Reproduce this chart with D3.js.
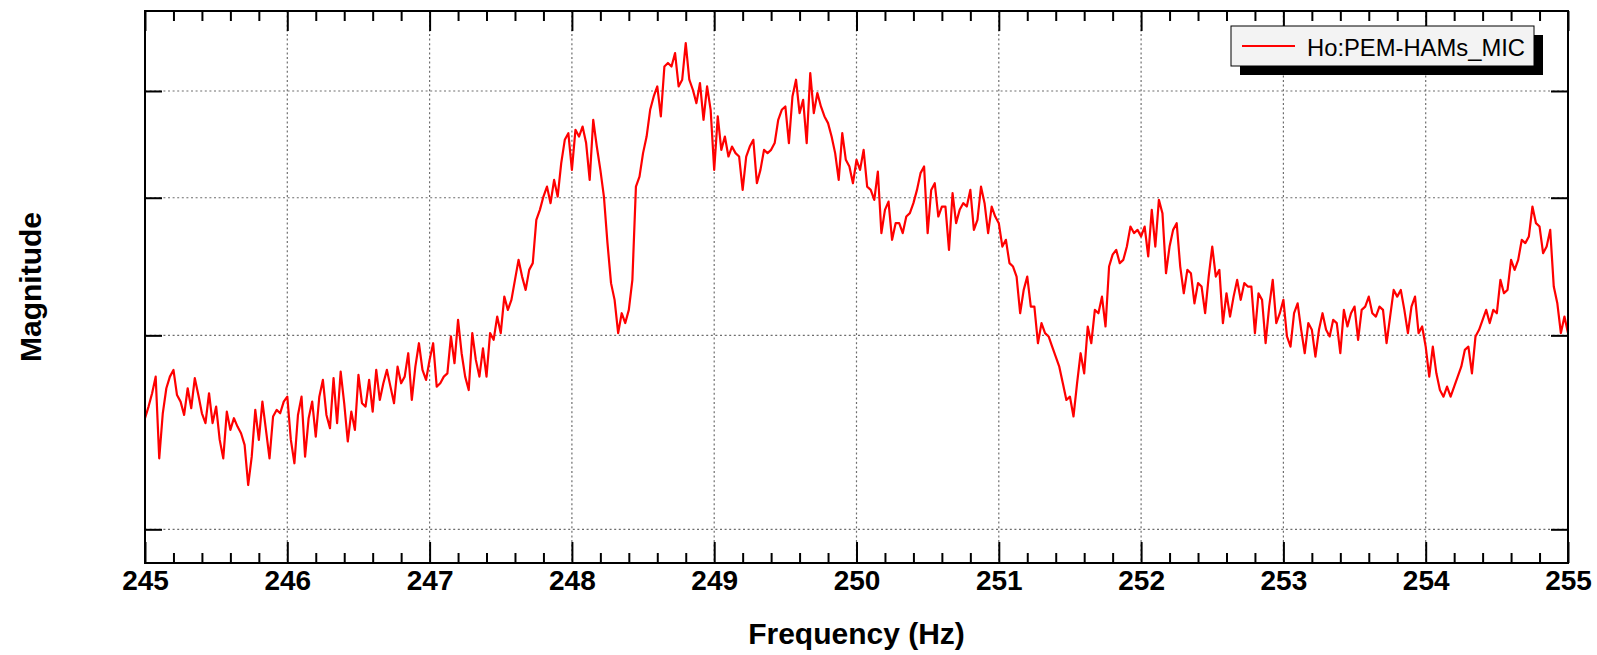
<!DOCTYPE html>
<html>
<head>
<meta charset="utf-8">
<script src="https://cdn.jsdelivr.net/npm/d3@7"></script>
<style>
  body { margin: 0; background: #fff; }
  svg { display: block; font-family: "Liberation Sans", Arial, Helvetica, sans-serif; }
</style>
</head>
<body>
<svg id="chart"></svg>
<script>
// spectrum bins: 245 Hz .. 255 Hz, one every 0.025 Hz
const freqStart = 245;
const freqStep = 0.025;

// magnitude per bin (log y axis, unlabelled)
const magnitude = [
  // 245.00
  2.523, 2.585, 2.658, 2.752, 2.320, 2.549, 2.686, 2.752, 2.791, 2.648,
  2.612, 2.540, 2.686, 2.576, 2.743, 2.648, 2.549, 2.497, 2.658, 2.497,
  // 245.50
  2.585, 2.411, 2.320, 2.558, 2.462, 2.523, 2.479, 2.445, 2.386, 2.194,
  2.328, 2.567, 2.411, 2.612, 2.462, 2.320, 2.532, 2.567, 2.549, 2.612,
  // 246.00
  2.639, 2.411, 2.296, 2.540, 2.639, 2.328, 2.523, 2.612, 2.428, 2.639,
  2.733, 2.540, 2.471, 2.743, 2.497, 2.781, 2.603, 2.403, 2.558, 2.462,
  // 246.50
  2.762, 2.603, 2.585, 2.733, 2.558, 2.791, 2.621, 2.714, 2.791, 2.695,
  2.603, 2.810, 2.714, 2.752, 2.890, 2.621, 2.810, 2.951, 2.791, 2.733,
  // 247.00
  2.850, 2.951, 2.695, 2.714, 2.752, 2.771, 2.993, 2.830, 3.099, 2.890,
  2.752, 2.676, 3.014, 2.850, 2.752, 2.920, 2.752, 3.014, 2.972, 3.120,
  // 247.50
  3.014, 3.253, 3.164, 3.231, 3.369, 3.513, 3.392, 3.299, 3.440, 3.489,
  3.819, 3.900, 4.010, 4.094, 3.955, 4.152, 4.010, 4.300, 4.515, 4.578,
  // 248.00
  4.240, 4.610, 4.546, 4.642, 4.484, 4.152, 4.708, 4.452, 4.240, 4.010,
  3.638, 3.346, 3.231, 3.014, 3.142, 3.078, 3.164, 3.369, 4.094, 4.181,
  // 248.50
  4.391, 4.546, 4.807, 4.943, 5.048, 4.741, 5.263, 5.301, 5.263, 5.413,
  5.048, 5.119, 5.527, 5.119, 5.013, 4.875, 5.084, 4.708, 5.048, 4.807,
  // 249.00
  4.240, 4.741, 4.421, 4.546, 4.360, 4.452, 4.391, 4.360, 4.066, 4.360,
  4.452, 4.515, 4.123, 4.240, 4.421, 4.391, 4.421, 4.484, 4.708, 4.807,
  // 249.50
  4.841, 4.484, 4.943, 5.119, 4.774, 4.909, 4.484, 5.191, 4.774, 4.979,
  4.841, 4.741, 4.675, 4.546, 4.391, 4.152, 4.578, 4.330, 4.270, 4.123,
  // 250.00
  4.330, 4.240, 4.421, 4.094, 4.066, 3.982, 4.225, 3.715, 3.900, 3.968,
  3.663, 3.793, 3.793, 3.715, 3.846, 3.873, 3.955, 4.066, 4.211, 4.270,
  // 250.50
  3.715, 4.066, 4.123, 3.846, 3.927, 3.927, 3.587, 4.038, 3.793, 3.900,
  3.955, 3.927, 4.066, 3.740, 3.819, 4.094, 3.955, 3.715, 3.927, 3.846,
  // 251.00
  3.793, 3.612, 3.663, 3.489, 3.464, 3.392, 3.142, 3.299, 3.392, 3.186,
  3.186, 2.951, 3.078, 3.014, 2.993, 2.930, 2.870, 2.810, 2.714, 2.621,
  // 251.50
  2.639, 2.532, 2.714, 2.890, 2.771, 3.056, 2.951, 3.164, 3.142, 3.253,
  3.056, 3.464, 3.551, 3.587, 3.489, 3.513, 3.612, 3.766, 3.715, 3.740,
  // 252.00
  3.689, 3.766, 3.538, 3.900, 3.612, 3.982, 3.873, 3.416, 3.612, 3.740,
  3.793, 3.464, 3.276, 3.440, 3.416, 3.208, 3.346, 3.322, 3.142, 3.392,
  // 252.50
  3.612, 3.392, 3.440, 3.078, 3.276, 3.120, 3.253, 3.369, 3.231, 3.346,
  3.322, 3.322, 3.014, 3.276, 3.231, 2.951, 3.186, 3.369, 3.078, 3.142,
  // 253.00
  3.231, 2.993, 2.930, 3.142, 3.208, 3.035, 2.890, 3.078, 3.035, 2.870,
  3.035, 3.142, 3.035, 2.993, 3.099, 3.078, 2.890, 3.164, 3.056, 3.142,
  // 253.50
  3.186, 2.972, 3.164, 3.186, 3.253, 3.142, 3.120, 3.186, 3.164, 2.951,
  3.120, 3.299, 3.253, 3.299, 3.164, 3.014, 3.186, 3.253, 3.014, 3.056,
  // 254.00
  2.930, 2.752, 2.930, 2.771, 2.676, 2.639, 2.695, 2.639, 2.695, 2.752,
  2.810, 2.910, 2.930, 2.771, 2.993, 3.035, 3.099, 3.164, 3.078, 3.164,
  // 254.50
  3.142, 3.369, 3.276, 3.299, 3.513, 3.440, 3.513, 3.663, 3.638, 3.689,
  3.927, 3.793, 3.766, 3.562, 3.612, 3.740, 3.322, 3.208, 3.014, 3.120,
  // 255.00
  3.014
];

const xTicks = [245, 246, 247, 248, 249, 250, 251, 252, 253, 254, 255];
const yGrid = [2, 3, 4, 5];
const seriesName = "Ho:PEM-HAMs_MIC";

const width = 1597, height = 655;
const margin = {top: 11, right: 29, bottom: 92, left: 145};

const data = magnitude.map((m, i) => ({f: freqStart + i * freqStep, m: m}));

const svg = d3.select("#chart")
    .attr("width", width)
    .attr("height", height);

const x = d3.scaleLinear()
    .domain([xTicks[0], xTicks[xTicks.length - 1]])
    .range([margin.left, width - margin.right]);

const y = d3.scaleLog()
    .domain([1.864, 5.91])
    .range([height - margin.bottom, margin.top]);

// minor ticks every 0.2 Hz
const xMinor = d3.range(xTicks[0], xTicks[xTicks.length - 1], 0.2)
    .filter(v => Math.abs(v - Math.round(v)) > 1e-6);

// grid
const grid = svg.append("g")
    .attr("stroke", "#6e6e6e")
    .attr("stroke-width", 1.2)
    .attr("stroke-dasharray", "2,2.6");

grid.selectAll(".vgrid")
    .data(xTicks.slice(1, -1))
    .join("line")
    .attr("x1", d => x(d)).attr("x2", d => x(d))
    .attr("y1", margin.top).attr("y2", height - margin.bottom);

grid.selectAll(".hgrid")
    .data(yGrid)
    .join("line")
    .attr("x1", margin.left).attr("x2", width - margin.right)
    .attr("y1", d => y(d)).attr("y2", d => y(d));

// trace
svg.append("clipPath").attr("id", "plotclip")
  .append("rect")
    .attr("x", margin.left).attr("y", margin.top)
    .attr("width", width - margin.left - margin.right)
    .attr("height", height - margin.top - margin.bottom);

const line = d3.line()
    .x(d => x(d.f))
    .y(d => y(d.m));

svg.append("path")
    .datum(data)
    .attr("clip-path", "url(#plotclip)")
    .attr("fill", "none")
    .attr("stroke", "#ff0000")
    .attr("stroke-width", 2.2)
    .attr("stroke-linejoin", "round")
    .attr("d", line);

// axes (ticks inward, like the original)
const tickStyle = g => g.call(g => g.select(".domain").remove())
    .call(g => g.selectAll(".tick line").attr("stroke", "#000").attr("stroke-width", 2));

svg.append("g")
    .attr("transform", `translate(0,${height - margin.bottom})`)
    .call(d3.axisBottom(x).tickValues(xTicks).tickSizeInner(-21).tickSizeOuter(0)
        .tickPadding(7).tickFormat(d3.format("d")))
    .call(tickStyle)
    .call(g => g.selectAll("text")
        .attr("fill", "#000")
        .style("font-size", "28px")
        .style("font-weight", "bold"));

svg.append("g")
    .attr("transform", `translate(0,${height - margin.bottom})`)
    .call(d3.axisBottom(x).tickValues(xMinor).tickSizeInner(-10).tickSizeOuter(0).tickFormat(""))
    .call(tickStyle);

svg.append("g")
    .attr("transform", `translate(0,${margin.top})`)
    .call(d3.axisTop(x).tickValues(xTicks).tickSizeInner(-20).tickSizeOuter(0).tickFormat(""))
    .call(tickStyle);

svg.append("g")
    .attr("transform", `translate(0,${margin.top})`)
    .call(d3.axisTop(x).tickValues(xMinor).tickSizeInner(-10).tickSizeOuter(0).tickFormat(""))
    .call(tickStyle);

svg.append("g")
    .attr("transform", `translate(${margin.left},0)`)
    .call(d3.axisLeft(y).tickValues(yGrid).tickSizeInner(-17).tickSizeOuter(0).tickFormat(""))
    .call(tickStyle);

svg.append("g")
    .attr("transform", `translate(${width - margin.right},0)`)
    .call(d3.axisRight(y).tickValues(yGrid).tickSizeInner(-17).tickSizeOuter(0).tickFormat(""))
    .call(tickStyle);

// frame
svg.append("rect")
    .attr("x", margin.left).attr("y", margin.top)
    .attr("width", width - margin.left - margin.right)
    .attr("height", height - margin.top - margin.bottom)
    .attr("fill", "none")
    .attr("stroke", "#000")
    .attr("stroke-width", 2);

// axis titles
svg.append("text")
    .attr("x", (margin.left + width - margin.right) / 2)
    .attr("y", 644)
    .attr("text-anchor", "middle")
    .style("font-size", "30px")
    .style("font-weight", "bold")
    .text("Frequency (Hz)");

svg.append("text")
    .attr("transform", `translate(41,${(margin.top + height - margin.bottom) / 2}) rotate(-90)`)
    .attr("text-anchor", "middle")
    .style("font-size", "30px")
    .style("font-weight", "bold")
    .text("Magnitude");

// legend with drop shadow
const legend = svg.append("g").attr("transform", "translate(1231,26)");
legend.append("rect")
    .attr("x", 9).attr("y", 9)
    .attr("width", 303).attr("height", 40)
    .attr("fill", "#000");
legend.append("rect")
    .attr("width", 303).attr("height", 40)
    .attr("fill", "#f3f3f3")
    .attr("stroke", "#000")
    .attr("stroke-width", 1);
legend.append("line")
    .attr("x1", 11).attr("x2", 64)
    .attr("y1", 20).attr("y2", 20)
    .attr("stroke", "#ff0000")
    .attr("stroke-width", 1.8);
legend.append("text")
    .attr("x", 76).attr("y", 30)
    .attr("textLength", 218)
    .attr("lengthAdjust", "spacingAndGlyphs")
    .style("font-size", "24px")
    .text(seriesName);
</script>
</body>
</html>
